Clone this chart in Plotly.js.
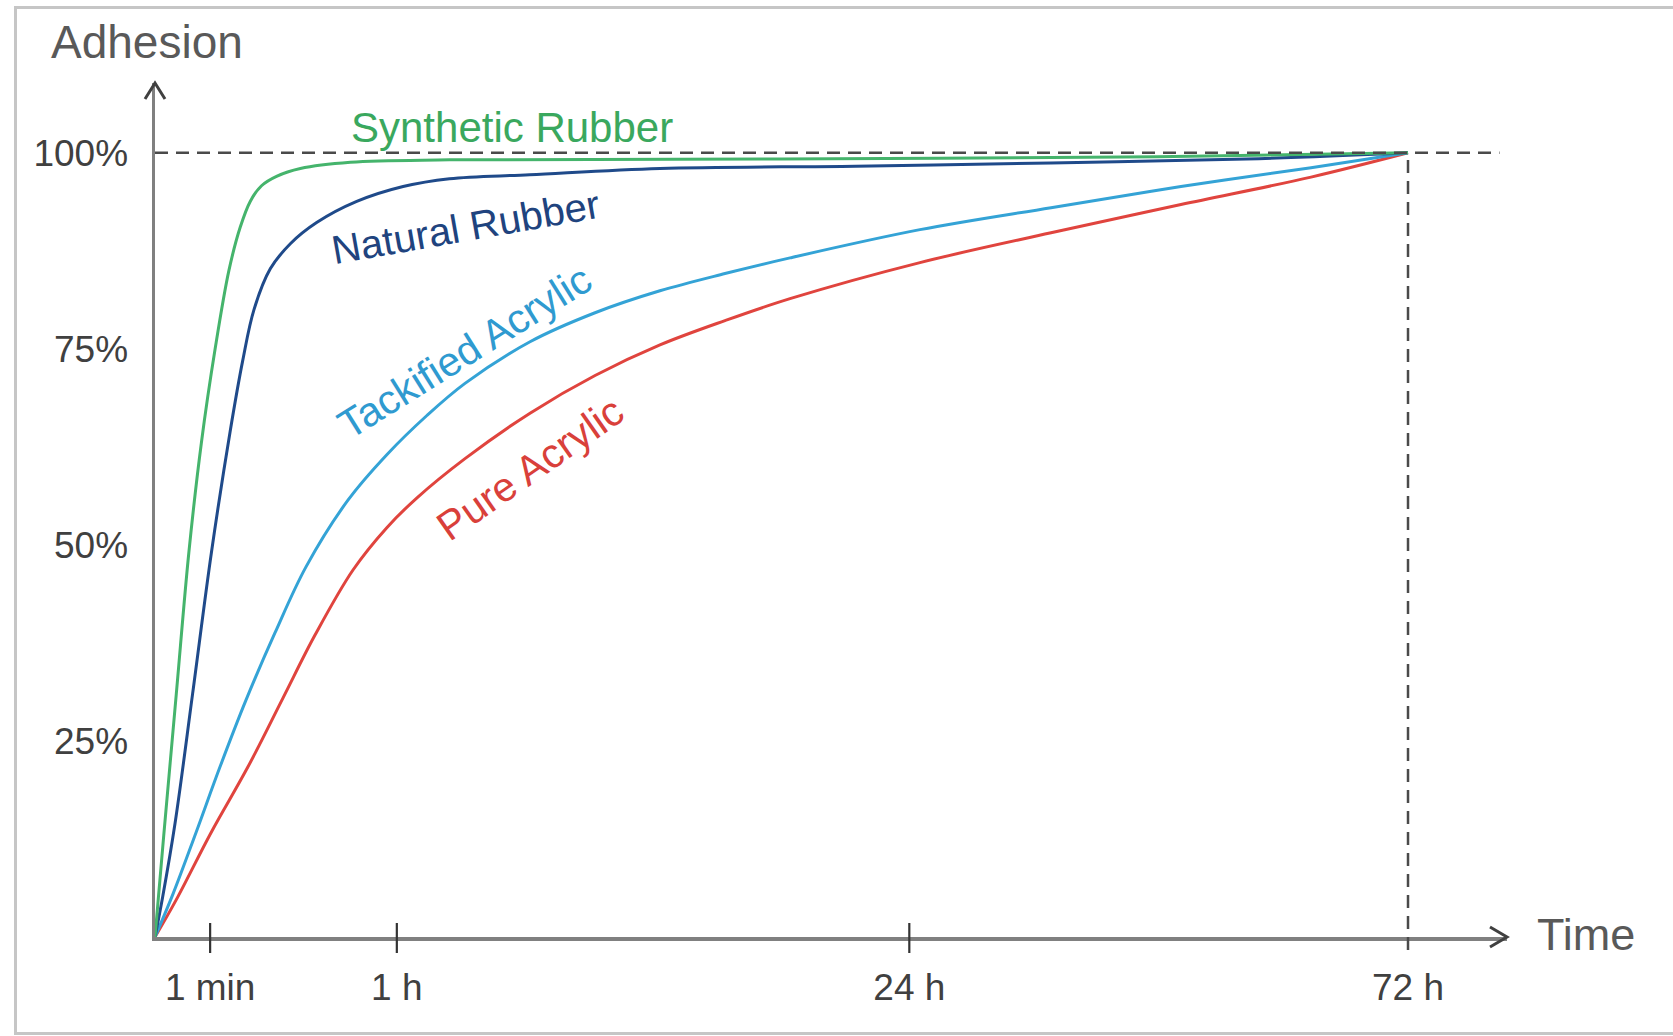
<!DOCTYPE html>
<html>
<head>
<meta charset="utf-8">
<script src="https://cdn.plot.ly/plotly-3.0.1.min.js"></script>
<style>
html, body { margin:0; padding:0; background:#ffffff; overflow:hidden; }
#chart { position:absolute; left:0; top:0; width:1673px; height:1036px; }
#frame { position:absolute; left:14px; top:6px; width:1700px; height:1029px; border:3px solid #c6c6c6; box-sizing:border-box; pointer-events:none; }
</style>
</head>
<body>
<div id="chart"></div>
<div id="frame"></div>
<script>
// ---- data (x = position along the schematic time axis, 0 = start, 100 = 72 h) ----
const tickLabels = ['1 min', '1 h', '24 h', '72 h'];
const tickPos    = [4.4, 19.3, 60.2, 100];

const yTickVals  = [25, 50, 75, 100];
const yTickText  = ['25%', '50%', '75%', '100%'];

const seriesNames = ['Synthetic Rubber', 'Natural Rubber', 'Tackified Acrylic', 'Pure Acrylic'];

const syntheticX = [0, 0.7, 1.7, 2.7, 3.7, 4.8, 5.9, 6.8, 7.6, 8.5, 9.7, 11.6, 15.6, 23.5, 50, 80, 100];
const syntheticY = [0, 13, 31, 49, 63, 75, 85, 90.5, 93.8, 95.8, 97.0, 98.0, 98.8, 99.1, 99.2, 99.5, 100];

const naturalX = [0, 0.6, 1.6, 3.0, 4.5, 6.0, 7.0, 7.9, 9.2, 10.8, 12.9, 16.1, 19.8, 23.5, 29.9, 40.3, 55.9, 71.5, 87.1, 100];
const naturalY = [0, 5, 14.5, 31, 49, 64.5, 73.5, 80, 85.2, 88.4, 91.1, 93.8, 95.7, 96.7, 97.2, 98.0, 98.3, 98.7, 99.2, 100];

const tackifiedX = [0, 1.44, 3.27, 5.19, 7.26, 9.58, 12.05, 15.4, 18.5, 21.7, 24.74, 29.93, 35.12, 40.3, 45.49, 50.68, 61.05, 71.51, 81.88, 92.26, 100];
const tackifiedY = [0, 5.5, 13.3, 21.7, 30.2, 38.8, 47.2, 55.7, 61.5, 66.5, 70.6, 75.9, 79.6, 82.4, 84.6, 86.6, 90.2, 93.0, 95.7, 98.1, 100];

const pureX = [0, 1.68, 4.47, 7.42, 10.22, 12.77, 15.8, 18.5, 20.91, 24.74, 29.93, 35.12, 40.3, 45.49, 50.68, 61.05, 71.51, 81.88, 92.26, 100];
const pureY = [0, 4.7, 13.3, 21.7, 30.5, 38.5, 46.8, 52.2, 56.0, 61.0, 66.8, 71.6, 75.5, 78.6, 81.4, 86.0, 89.8, 93.4, 96.9, 100];

// label anchor positions (in axis units) and angles
const labelX     = [28.5, 24.8, 24.7, 29.9];
const labelY     = [103.2, 90.6, 74.6, 59.7];
const labelAngle = [0, -10, -32, -35];
const labelSize  = [42, 40, 41, 41];

// ---- styling ----
const lineColors = ['#45b46c', '#1f4a8a', '#34a3d6', '#e0443e'];
const textColors = ['#3aa85e', '#20437e', '#2f9ad0', '#d9403a'];
const FONT = 'Liberation Sans, Arial, Helvetica, sans-serif';

const W = 1673, H = 1036;
const M = {l:155, r:166, t:83, b:99};
const plotW = W - M.l - M.r, plotH = H - M.t - M.b;
const X_MAX = 107.9, Y_MAX = 108.9;
const DASH_END_X = 107.3;

const xs = [syntheticX, naturalX, tackifiedX, pureX];
const ys = [syntheticY, naturalY, tackifiedY, pureY];

const order = [3, 2, 1, 0];
const traces = order.map(i => ({
  type: 'scatter', mode: 'lines', name: seriesNames[i],
  x: xs[i], y: ys[i],
  line: {color: lineColors[i], width: 3, shape: 'spline', smoothing: 1.0},
  hoverinfo: 'skip'
}));

const annotations = seriesNames.map((n, i) => ({
  x: labelX[i], y: labelY[i], xref: 'x', yref: 'y',
  text: n, showarrow: false, textangle: labelAngle[i],
  xanchor: 'center', yanchor: 'middle',
  font: {family: FONT, size: labelSize[i], color: textColors[i]}
}));
function pxX(px) { return (px - M.l) / plotW; }
function pxY(py) { return (H - M.b - py) / plotH; }
annotations.push({
  text: 'Adhesion', xref: 'paper', yref: 'paper', x: pxX(49), y: pxY(42),
  xanchor: 'left', yanchor: 'middle', showarrow: false,
  font: {family: FONT, size: 46, color: '#595959'}
});
annotations.push({
  text: 'Time', xref: 'paper', yref: 'paper', x: pxX(1535), y: pxY(934),
  xanchor: 'left', yanchor: 'middle', showarrow: false,
  font: {family: FONT, size: 45, color: '#595959'}
});

const shapes = [];
// 100% reference line
shapes.push({type: 'line', xref: 'x', yref: 'y', x0: 0, x1: DASH_END_X, y0: 100, y1: 100,
  line: {color: '#4a4a4a', width: 2.5, dash: '13px,8px'}});
// 72 h reference line
shapes.push({type: 'line', xref: 'x', yref: 'paper', x0: tickPos[3], x1: tickPos[3],
  y0: -13 / plotH, y1: 100 / Y_MAX,
  line: {color: '#4a4a4a', width: 2.5, dash: '13px,8px'}});
// tick marks crossing the time axis
tickPos.slice(0, 3).forEach(p => {
  shapes.push({type: 'line', xref: 'x', yref: 'paper', ysizemode: 'pixel', yanchor: 0,
    x0: p, x1: p, y0: -16, y1: 14, line: {color: '#333333', width: 2.2}});
});
// arrow heads
shapes.push({type: 'path', xref: 'paper', yref: 'paper', xsizemode: 'pixel', ysizemode: 'pixel',
  xanchor: 1, yanchor: 0, path: 'M-17,10 L0,0 L-17,-10', line: {color: '#404040', width: 3}});
shapes.push({type: 'path', xref: 'paper', yref: 'paper', xsizemode: 'pixel', ysizemode: 'pixel',
  xanchor: 0, yanchor: 1, path: 'M-10,-16 L0,0 L10,-16', line: {color: '#404040', width: 3}});

const layout = {
  width: W, height: H,
  margin: M,
  paper_bgcolor: '#ffffff', plot_bgcolor: '#ffffff',
  showlegend: false,
  font: {family: FONT},
  xaxis: {
    range: [0, X_MAX], showline: true, linecolor: '#808080', linewidth: 3.5,
    showgrid: false, zeroline: false, fixedrange: true,
    tickmode: 'array', tickvals: tickPos, ticktext: tickLabels,
    ticks: 'outside', ticklen: 15, tickcolor: 'rgba(0,0,0,0)',
    tickfont: {family: FONT, size: 37, color: '#404040'}
  },
  yaxis: {
    range: [0, Y_MAX], showline: true, linecolor: '#808080', linewidth: 3.5,
    showgrid: false, zeroline: false, fixedrange: true,
    tickmode: 'array', tickvals: yTickVals, ticktext: yTickText,
    ticks: 'outside', ticklen: 16, tickcolor: 'rgba(0,0,0,0)',
    tickfont: {family: FONT, size: 37, color: '#404040'}
  },
  annotations: annotations,
  shapes: shapes
};

Plotly.newPlot('chart', traces, layout, {displayModeBar: false, staticPlot: true});
</script>
</body>
</html>
